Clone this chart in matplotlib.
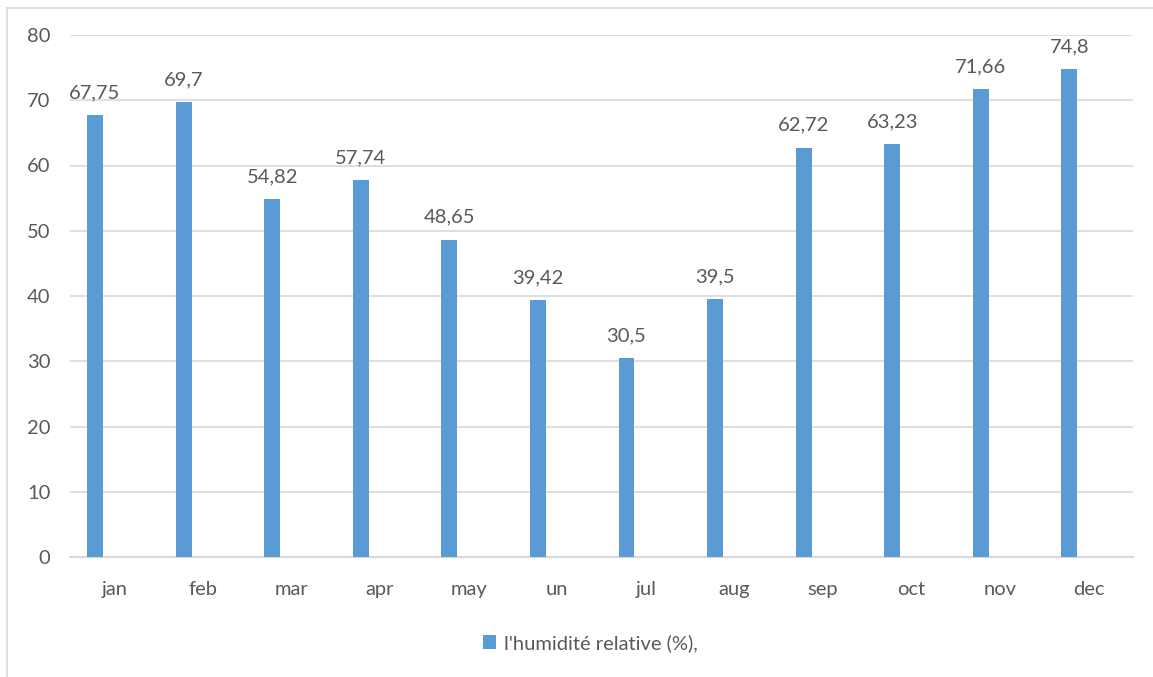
import matplotlib
matplotlib.use("Agg")
import matplotlib.pyplot as plt
import numpy as np
from matplotlib.lines import Line2D
from matplotlib.patches import Patch

months = ["jan", "feb", "mar", "apr", "may", "un", "jul", "aug", "sep", "oct", "nov", "dec"]
humidity = [67.75, 69.7, 54.82, 57.74, 48.65, 39.42, 30.5, 39.5, 62.72, 63.23, 71.66, 74.8]
value_labels = ["67,75", "69,7", "54,82", "57,74", "48,65", "39,42", "30,5", "39,5", "62,72", "63,23", "71,66", "74,8"]
series_name = "l'humidité relative (%),"
yticks = [0, 10, 20, 30, 40, 50, 60, 70, 80]

plt.rcParams['font.family'] = ['Lato', 'DejaVu Sans']
W, H = 1153, 677
fig = plt.figure(figsize=(W / 100, H / 100), dpi=100)
ax = fig.add_axes([70 / W, 1 - 557 / H, (1133 - 70) / W, (557 - 35) / H])

color = "#5b9bd5"
text_color = "#595959"
grid_color = "#d9d9d9"
fs = 14.5

x = np.arange(len(months))
offset = -0.218
bw = 0.18
ax.bar(x + offset, humidity, width=bw, color=color, zorder=3)
for xi, v, lab in zip(x, humidity, value_labels):
    ax.annotate(lab, (xi + offset, v), xytext=(0, 10), textcoords="offset points",
                ha="center", va="bottom", fontsize=fs, color=text_color)

ax.set_xlim(-0.5, len(months) - 0.5)
ax.set_ylim(0, 80)
ax.set_yticks(yticks)
ax.set_xticks(x)
ax.set_xticklabels(months)
ax.tick_params(axis="both", length=0, labelsize=fs, labelcolor=text_color)
ax.tick_params(axis="x", pad=17)
ax.tick_params(axis="y", pad=14)
ax.yaxis.grid(True, color=grid_color, linewidth=1.2, zorder=0)
for s in ["top", "right", "left"]:
    ax.spines[s].set_visible(False)
ax.spines["bottom"].set_color(grid_color)
ax.spines["bottom"].set_linewidth(1.5)

leg = fig.legend(handles=[Patch(facecolor=color, label=series_name)],
                 loc="center", bbox_to_anchor=(590 / W, 1 - 643 / H), frameon=False,
                 fontsize=fs, handlelength=0.65, handleheight=0.65, handletextpad=0.4)
for t in leg.get_texts():
    t.set_color(text_color)

# chart border (left and top)
fig.add_artist(Line2D([7 / W, 7 / W], [0, 1 - 8 / H], transform=fig.transFigure, color=grid_color, lw=1.2))
fig.add_artist(Line2D([7 / W, 1], [1 - 8 / H, 1 - 8 / H], transform=fig.transFigure, color=grid_color, lw=1.2))

fig.savefig("out.png", dpi=100, facecolor="white")
